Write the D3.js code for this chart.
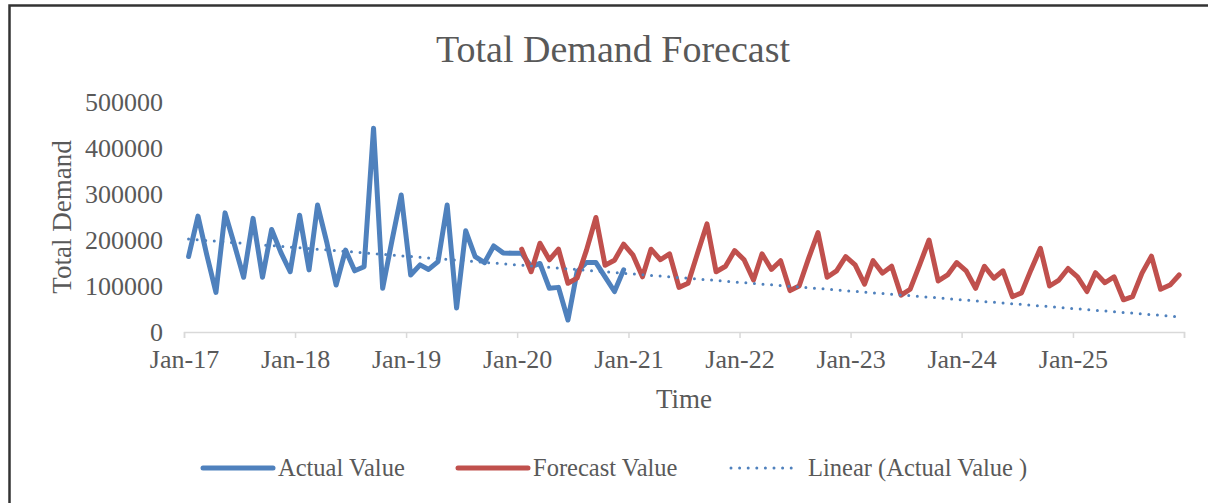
<!DOCTYPE html>
<html>
<head>
<meta charset="utf-8">
<script src="https://cdn.jsdelivr.net/npm/d3@7"></script>
<style>
    body { margin: 0; background: #fff; }
    svg { display: block; font-family: "Liberation Serif", "DejaVu Serif", serif; }
</style>
</head>
<body>
<div id="TotalDemandGraph"></div>
<script>
// monthly series
var actualStart = "2017-01";
var actualValues = [
    164000, 252000, 170000, 86000, 259000, 189000, 119000, 247000, 119000, 223000, 172000, 131000,
    254000, 135000, 276000, 193000, 102000, 178000, 133000, 142000, 443000, 95000, 200000, 298000,
    124000, 146000, 136000, 153000, 276000, 52000, 220000, 164000, 151000, 187000, 172000, 171000,
    171000, 142000, 149000, 95000, 97000, 26000, 131000, 151000, 151000, 120000, 88000, 135000
];
var forecastStart = "2020-01";
var forecastValues = [
    180000, 131000, 193000, 157000, 180000, 106000, 117000, 178000, 249000, 145000, 156000, 191000,
    167000, 120000, 180000, 157000, 170000, 97000, 106000, 171000, 235000, 131000, 143000, 177000,
    157000, 113000, 170000, 136000, 155000, 90000, 100000, 160000, 216000, 119000, 133000, 164000,
    146000, 104000, 155000, 128000, 143000, 80000, 93000, 146000, 200000, 111000, 124000, 151000,
    133000, 95000, 143000, 117000, 133000, 77000, 85000, 135000, 182000, 100000, 113000, 138000,
    120000, 88000, 129000, 107000, 120000, 70000, 77000, 128000, 165000, 93000, 102000, 124000
];
// linear trendline of the actual values (end points)
var trendMonths = ["2017-01", "2025-12"];
var trendValues = [202000, 33000];

var yTicks = [0, 100000, 200000, 300000, 400000, 500000];
var xDomain = ["2017-01", "2026-01"];

var seriesNames = ["Actual Value", "Forecast Value", "Linear (Actual Value )"];
var colors = ['#4F81BD', '#C0504D', '#4F81BD'];

init();

function init() {
    var parseMonth = d3.timeParse("%Y-%m");
    // points sit in the middle of their month
    var midMonth = (start, i) => {
        var d = d3.timeMonth.offset(parseMonth(start), i);
        return new Date(d.getFullYear(), d.getMonth(), 16);
    };
    var actual = actualValues.map((v, i) => ({ date: midMonth(actualStart, i), value: v }));
    var forecast = forecastValues.map((v, i) => ({ date: midMonth(forecastStart, i), value: v }));
    var trend = trendValues.map((v, i) => ({ date: midMonth(trendMonths[i], 0), value: v }));

    loadDemandGraph('#TotalDemandGraph', actual, forecast, trend);
}

function loadDemandGraph(element, actual, forecast, trend) {

    var width = 1208;
    var height = 503;
    var textColor = '#595959';

    var x = d3.scaleTime()
        .domain(xDomain.map(d3.timeParse("%Y-%m")))
        .range([184, 1184]);
    var y = d3.scaleLinear()
        .domain([0, 500000])
        .range([332, 102]);

    var svg = d3.select(element)
        .append('svg')
        .attr('width', width)
        .attr('height', height);

    svg.append("rect")
        .attr("x", 9.5).attr("y", 5.5)
        .attr("width", 1220).attr("height", 520)
        .attr("fill", "#fff")
        .attr("stroke", "#333")
        .attr("stroke-width", 2.5);

    svg.append("text")
        .attr("x", 613).attr("y", 62)
        .attr("text-anchor", "middle")
        .attr("font-size", 38)
        .attr("fill", textColor)
        .text("Total Demand Forecast");

    // y axis labels, no axis line
    var yAxis = svg.append("g")
        .attr("transform", "translate(166,0)")
        .call(d3.axisLeft(y).tickValues(yTicks).tickFormat(d3.format("d")).tickSize(0).tickPadding(3))
        .attr("font-family", null);
    yAxis.select(".domain").remove();
    yAxis.selectAll("text").attr("font-size", 26).attr("fill", textColor);

    var xTicks = d3.timeYear.range(x.domain()[0], d3.timeDay.offset(x.domain()[1], 1));
    var xAxis = svg.append("g")
        .attr("transform", "translate(0,332)")
        .call(d3.axisBottom(x)
            .tickValues(xTicks)
            .tickFormat((d, i) => i < xTicks.length - 1 ? d3.timeFormat("Jan-%y")(d) : "")
            .tickSize(6).tickSizeOuter(6).tickPadding(12))
        .attr("font-family", null);
    xAxis.selectAll(".domain, line").attr("stroke", "#d9d9d9").attr("stroke-width", 1.5);
    xAxis.selectAll("text").attr("font-size", 26).attr("fill", textColor);

    svg.append("text")
        .attr("x", 684).attr("y", 408)
        .attr("text-anchor", "middle")
        .attr("font-size", 27)
        .attr("fill", textColor)
        .text("Time");

    svg.append("text")
        .attr("transform", "translate(71,217) rotate(-90)")
        .attr("text-anchor", "middle")
        .attr("font-size", 27)
        .attr("fill", textColor)
        .text("Total Demand");

    var line = d3.line()
        .x(d => x(d.date))
        .y(d => y(d.value));

    svg.append("path")
        .datum(actual)
        .attr("d", line)
        .attr("fill", "none")
        .attr("stroke", colors[0])
        .attr("stroke-width", 5)
        .attr("stroke-linejoin", "round")
        .attr("stroke-linecap", "round");

    svg.append("path")
        .datum(forecast)
        .attr("d", line)
        .attr("fill", "none")
        .attr("stroke", colors[1])
        .attr("stroke-width", 5)
        .attr("stroke-linejoin", "round")
        .attr("stroke-linecap", "round");

    svg.append("path")
        .datum(trend)
        .attr("d", line)
        .attr("fill", "none")
        .attr("stroke", colors[2])
        .attr("stroke-width", 3)
        .attr("stroke-linecap", "round")
        .attr("stroke-dasharray", "0 8.6");

    // legend
    var legendX = [203, 458, 731];
    var legendW = [70, 70, 63];
    var legend = svg.append("g")
        .selectAll("g").data(seriesNames).enter().append("g")
        .attr("transform", (d, i) => `translate(${legendX[i]},468)`);

    legend.append("line")
        .attr("x1", 0).attr("x2", (d, i) => legendW[i])
        .attr("stroke", (d, i) => colors[i])
        .attr("stroke-width", (d, i) => i < 2 ? 5 : 3)
        .attr("stroke-linecap", "round")
        .attr("stroke-dasharray", (d, i) => i < 2 ? null : "0 8.6");

    legend.append("text")
        .attr("x", (d, i) => i < 2 ? legendW[i] + 5 : legendW[i] + 14)
        .attr("dy", "0.32em")
        .attr("font-size", 24.5)
        .attr("fill", textColor)
        .text(d => d);

    svg.node();
}
</script>
</body>
</html>
